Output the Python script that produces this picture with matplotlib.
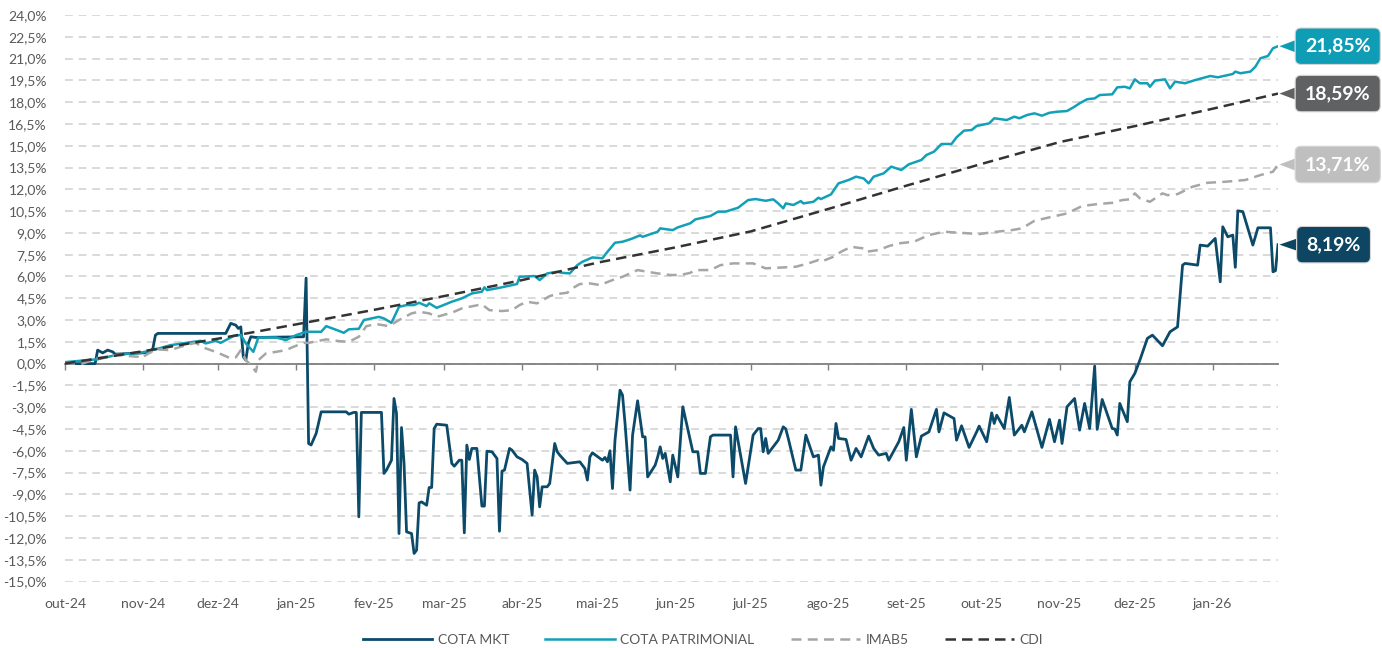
import matplotlib
matplotlib.use("Agg")
import matplotlib.pyplot as plt
import pandas as pd
import numpy as np
from matplotlib.ticker import FuncFormatter

plt.rcParams['font.family'] = ['Lato', 'DejaVu Sans']

# ---------------- data ----------------
series_names = ["COTA MKT", "COTA PATRIMONIAL", "IMAB5", "CDI"]

mkt_dates = [
    "2024-10-01", "2024-10-13", "2024-10-14", "2024-10-16", "2024-10-18", "2024-10-20", "2024-10-21",
    "2024-11-01", "2024-11-04", "2024-11-05", "2024-11-06", "2024-11-07", "2024-12-04", "2024-12-06",
    "2024-12-08", "2024-12-09", "2024-12-10", "2024-12-11", "2024-12-12", "2024-12-13", "2024-12-14",
    "2024-12-16", "2025-01-04", "2025-01-05", "2025-01-06", "2025-01-07", "2025-01-09", "2025-01-11",
    "2025-01-21", "2025-01-22", "2025-01-24", "2025-01-25", "2025-01-26", "2025-01-27", "2025-02-04",
    "2025-02-05", "2025-02-06", "2025-02-08", "2025-02-09", "2025-02-10", "2025-02-11", "2025-02-12",
    "2025-02-13", "2025-02-14", "2025-02-16", "2025-02-17", "2025-02-18", "2025-02-19", "2025-02-20",
    "2025-02-22", "2025-02-23", "2025-02-24", "2025-02-25", "2025-02-26", "2025-03-02", "2025-03-04",
    "2025-03-05", "2025-03-07", "2025-03-08", "2025-03-09", "2025-03-10", "2025-03-11", "2025-03-12",
    "2025-03-14", "2025-03-16", "2025-03-17", "2025-03-18", "2025-03-20", "2025-03-22", "2025-03-23",
    "2025-03-24", "2025-03-25", "2025-03-27", "2025-03-28", "2025-03-30", "2025-04-01", "2025-04-03",
    "2025-04-05", "2025-04-06", "2025-04-07", "2025-04-08", "2025-04-09", "2025-04-11", "2025-04-12",
    "2025-04-14", "2025-04-15", "2025-04-16", "2025-04-19", "2025-04-24", "2025-04-26", "2025-04-27",
    "2025-04-28", "2025-04-29", "2025-05-03", "2025-05-04", "2025-05-05", "2025-05-06", "2025-05-07",
    "2025-05-08", "2025-05-10", "2025-05-11", "2025-05-12", "2025-05-14", "2025-05-15", "2025-05-17",
    "2025-05-19", "2025-05-20", "2025-05-21", "2025-05-24", "2025-05-25", "2025-05-26", "2025-05-27",
    "2025-05-28", "2025-05-30", "2025-05-31", "2025-06-02", "2025-06-04", "2025-06-08", "2025-06-10",
    "2025-06-11", "2025-06-13", "2025-06-15", "2025-06-16", "2025-06-23", "2025-06-24", "2025-06-25",
    "2025-06-29", "2025-07-02", "2025-07-04", "2025-07-05", "2025-07-06", "2025-07-07", "2025-07-08",
    "2025-07-12", "2025-07-14", "2025-07-15", "2025-07-16", "2025-07-19", "2025-07-21", "2025-07-23",
    "2025-07-26", "2025-07-28", "2025-07-29", "2025-07-30", "2025-08-02", "2025-08-03", "2025-08-04",
    "2025-08-05", "2025-08-08", "2025-08-10", "2025-08-12", "2025-08-14", "2025-08-17", "2025-08-19",
    "2025-08-21", "2025-08-24", "2025-08-25", "2025-08-29", "2025-08-31", "2025-09-01", "2025-09-03",
    "2025-09-05", "2025-09-07", "2025-09-10", "2025-09-13", "2025-09-14", "2025-09-16", "2025-09-20",
    "2025-09-21", "2025-09-23", "2025-09-26", "2025-09-29", "2025-09-30", "2025-10-03", "2025-10-05",
    "2025-10-06", "2025-10-07", "2025-10-10", "2025-10-12", "2025-10-14", "2025-10-17", "2025-10-18",
    "2025-10-21", "2025-10-25", "2025-10-28", "2025-10-30", "2025-11-01", "2025-11-02", "2025-11-04",
    "2025-11-07", "2025-11-09", "2025-11-11", "2025-11-13", "2025-11-15", "2025-11-16", "2025-11-18",
    "2025-11-22", "2025-11-23", "2025-11-24", "2025-11-25", "2025-11-28", "2025-11-29", "2025-12-01",
    "2025-12-03", "2025-12-06", "2025-12-08", "2025-12-12", "2025-12-15", "2025-12-18", "2025-12-20",
    "2025-12-21", "2025-12-26", "2025-12-27", "2025-12-30", "2026-01-02", "2026-01-04", "2026-01-05",
    "2026-01-07", "2026-01-09", "2026-01-10", "2026-01-11", "2026-01-13", "2026-01-17", "2026-01-19",
    "2026-01-24", "2026-01-25", "2026-01-26", "2026-01-27",
]
mkt_values = [
    0.00, 0.00, 0.93, 0.74, 0.93, 0.81, 0.65,
    0.74, 0.80, 1.05, 1.96, 2.08, 2.08, 2.77,
    2.65, 2.42, 2.53, 0.47, 0.24, 1.39, 1.85,
    1.80, 1.85, 5.89, -5.50, -5.60, -4.81, -3.32,
    -3.32, -3.48, -3.36, -3.36, -10.55, -3.36, -3.36,
    -7.56, -7.33, -6.65, -2.40, -3.43, -11.70, -4.40,
    -6.87, -11.58, -11.70, -13.07, -12.84, -9.59, -9.52,
    -9.75, -8.53, -8.53, -4.47, -4.17, -4.24, -6.87,
    -7.06, -6.65, -6.65, -11.65, -5.61, -6.60, -5.84,
    -5.84, -9.81, -9.81, -6.03, -6.07, -6.53, -11.54,
    -7.40, -7.33, -5.84, -5.96, -6.42, -6.60, -6.87,
    -10.43, -7.33, -7.80, -9.86, -8.48, -8.48, -8.25,
    -5.50, -6.07, -6.30, -6.87, -6.76, -7.22, -8.02,
    -6.42, -6.14, -6.65, -6.46, -6.76, -6.00, -8.60,
    -5.27, -1.83, -2.17, -4.12, -8.71, -4.92, -2.56,
    -5.04, -5.04, -7.80, -6.99, -6.42, -5.73, -6.53,
    -6.18, -8.14, -6.30, -7.80, -2.97, -6.07, -6.07,
    -7.56, -7.56, -5.04, -4.92, -4.92, -7.80, -4.35,
    -8.25, -4.92, -4.47, -4.47, -6.07, -5.15, -6.18,
    -5.27, -4.35, -4.50, -5.15, -7.33, -7.33, -4.92,
    -6.42, -6.30, -8.37, -7.11, -5.73, -5.96, -4.12,
    -5.15, -5.22, -6.65, -5.84, -6.42, -4.99, -5.84,
    -6.30, -6.18, -6.65, -5.38, -4.40, -6.65, -3.15,
    -6.42, -4.99, -4.70, -3.15, -4.70, -3.39, -3.78,
    -5.27, -4.28, -5.77, -4.70, -4.30, -5.38, -3.39,
    -4.12, -3.55, -4.47, -2.33, -4.92, -4.24, -4.70,
    -3.32, -5.77, -3.84, -5.38, -3.89, -5.50, -2.97,
    -2.40, -4.58, -2.74, -4.47, -0.17, -4.53, -2.47,
    -4.47, -4.50, -4.92, -2.74, -4.00, -1.25, -0.67,
    0.24, 1.74, 1.96, 1.23, 2.19, 2.53, 6.78,
    6.90, 6.78, 8.16, 8.09, 8.62, 5.63, 9.42,
    8.73, 8.85, 6.63, 10.52, 10.46, 8.16, 9.35,
    9.35, 6.32, 6.40, 8.19,
]

pat_dates = [
    "2024-10-01", "2024-10-14", "2024-10-22", "2024-10-31", "2024-11-06", "2024-11-12", "2024-11-24",
    "2024-11-26", "2024-11-30", "2024-12-02", "2024-12-07", "2024-12-10", "2024-12-12", "2024-12-15",
    "2024-12-17", "2024-12-24", "2024-12-28", "2025-01-01", "2025-01-05", "2025-01-11", "2025-01-13",
    "2025-01-18", "2025-01-20", "2025-01-22", "2025-01-26", "2025-01-28", "2025-02-03", "2025-02-05",
    "2025-02-08", "2025-02-11", "2025-02-14", "2025-02-17", "2025-02-19", "2025-02-22", "2025-02-23",
    "2025-02-26", "2025-03-04", "2025-03-08", "2025-03-12", "2025-03-16", "2025-03-17", "2025-03-18",
    "2025-03-23", "2025-03-30", "2025-03-31", "2025-04-06", "2025-04-08", "2025-04-11", "2025-04-15",
    "2025-04-17", "2025-04-20", "2025-04-23", "2025-04-25", "2025-04-29", "2025-05-03", "2025-05-05",
    "2025-05-08", "2025-05-11", "2025-05-13", "2025-05-15", "2025-05-18", "2025-05-19", "2025-05-25",
    "2025-05-26", "2025-05-31", "2025-06-02", "2025-06-07", "2025-06-09", "2025-06-15", "2025-06-18",
    "2025-06-21", "2025-06-26", "2025-06-30", "2025-07-03", "2025-07-07", "2025-07-10", "2025-07-12",
    "2025-07-14", "2025-07-15", "2025-07-18", "2025-07-21", "2025-07-22", "2025-07-26", "2025-07-28",
    "2025-07-29", "2025-08-02", "2025-08-05", "2025-08-09", "2025-08-12", "2025-08-15", "2025-08-17",
    "2025-08-19", "2025-08-23", "2025-08-26", "2025-08-30", "2025-09-02", "2025-09-07", "2025-09-09",
    "2025-09-12", "2025-09-15", "2025-09-19", "2025-09-21", "2025-09-24", "2025-09-27", "2025-09-29",
    "2025-10-04", "2025-10-06", "2025-10-11", "2025-10-14", "2025-10-16", "2025-10-19", "2025-10-22",
    "2025-10-25", "2025-10-28", "2025-10-31", "2025-11-04", "2025-11-07", "2025-11-09", "2025-11-12",
    "2025-11-15", "2025-11-17", "2025-11-22", "2025-11-24", "2025-11-27", "2025-11-29", "2025-12-01",
    "2025-12-03", "2025-12-06", "2025-12-07", "2025-12-09", "2025-12-13", "2025-12-15", "2025-12-17",
    "2025-12-21", "2025-12-25", "2025-12-31", "2026-01-03", "2026-01-09", "2026-01-10", "2026-01-12",
    "2026-01-16", "2026-01-18", "2026-01-20", "2026-01-23", "2026-01-25", "2026-01-27",
]
pat_values = [
    0.10, 0.30, 0.62, 0.74, 0.98, 1.27, 1.57,
    1.39, 1.57, 1.43, 1.89, 1.98, 1.39, 0.81,
    1.80, 1.80, 1.62, 1.96, 2.19, 2.19, 2.58,
    2.26, 2.12, 2.36, 2.40, 3.00, 3.22, 3.11,
    2.81, 3.91, 4.03, 4.03, 4.19, 3.96, 4.15,
    3.84, 4.26, 4.49, 4.83, 4.95, 5.25, 5.06,
    5.22, 5.48, 5.98, 6.03, 5.75, 6.21, 6.32,
    6.25, 6.21, 6.78, 7.01, 7.31, 7.25, 7.70,
    8.32, 8.39, 8.50, 8.62, 8.83, 8.73, 9.08,
    9.31, 9.19, 9.38, 9.66, 9.93, 10.16, 10.46,
    10.46, 10.73, 11.26, 11.33, 11.21, 11.31, 11.03,
    10.69, 11.03, 10.92, 11.19, 11.03, 11.14, 11.42,
    11.33, 11.65, 12.41, 12.64, 12.87, 12.75, 12.41,
    12.87, 13.10, 13.56, 13.33, 13.72, 14.02, 14.36,
    14.59, 15.12, 15.12, 15.58, 16.04, 16.08, 16.36,
    16.54, 16.89, 16.77, 17.00, 16.89, 17.11, 17.23,
    17.07, 17.27, 17.34, 17.39, 17.69, 17.92, 18.20,
    18.26, 18.49, 18.54, 19.02, 19.06, 18.95, 19.57,
    19.30, 19.30, 19.06, 19.48, 19.57, 18.95, 19.41,
    19.30, 19.52, 19.80, 19.71, 19.94, 20.10, 19.99,
    20.10, 20.44, 21.02, 21.18, 21.71, 21.85,
]

imab_dates = [
    "2024-10-01", "2024-10-08", "2024-10-14", "2024-10-22", "2024-10-30", "2024-10-31", "2024-11-06",
    "2024-11-12", "2024-11-18", "2024-11-22", "2024-11-26", "2024-11-30", "2024-12-06", "2024-12-08",
    "2024-12-10", "2024-12-12", "2024-12-14", "2024-12-16", "2024-12-17", "2024-12-20", "2024-12-24",
    "2024-12-28", "2024-12-31", "2025-01-04", "2025-01-06", "2025-01-13", "2025-01-18", "2025-01-22",
    "2025-01-26", "2025-01-29", "2025-02-02", "2025-02-07", "2025-02-11", "2025-02-16", "2025-02-19",
    "2025-02-23", "2025-02-26", "2025-03-02", "2025-03-04", "2025-03-08", "2025-03-11", "2025-03-16",
    "2025-03-19", "2025-03-24", "2025-03-28", "2025-03-31", "2025-04-03", "2025-04-07", "2025-04-12",
    "2025-04-15", "2025-04-19", "2025-04-21", "2025-04-24", "2025-04-28", "2025-05-02", "2025-05-07",
    "2025-05-11", "2025-05-17", "2025-05-21", "2025-05-25", "2025-05-30", "2025-06-03", "2025-06-07",
    "2025-06-09", "2025-06-15", "2025-06-19", "2025-06-24", "2025-07-02", "2025-07-07", "2025-07-15",
    "2025-07-19", "2025-07-24", "2025-07-28", "2025-07-29", "2025-08-03", "2025-08-06", "2025-08-10",
    "2025-08-15", "2025-08-16", "2025-08-21", "2025-08-25", "2025-08-29", "2025-09-04", "2025-09-10",
    "2025-09-16", "2025-09-22", "2025-09-30", "2025-10-07", "2025-10-13", "2025-10-17", "2025-10-22",
    "2025-10-28", "2025-11-04", "2025-11-10", "2025-11-16", "2025-11-22", "2025-11-26", "2025-11-29",
    "2025-12-01", "2025-12-03", "2025-12-07", "2025-12-12", "2025-12-14", "2025-12-18", "2025-12-24",
    "2025-12-30", "2026-01-06", "2026-01-14", "2026-01-20", "2026-01-25", "2026-01-27",
]
imab_values = [
    0.00, 0.00, 0.38, 0.59, 0.47, 0.36, 0.98,
    0.93, 1.27, 1.43, 1.05, 0.81, 0.36, 0.43,
    0.93, 0.24, -0.10, -0.56, 0.24, 0.70, 0.81,
    0.93, 1.16, 1.43, 1.43, 1.67, 1.55, 1.50,
    1.85, 2.58, 2.72, 2.58, 3.00, 3.46, 3.57,
    3.46, 3.22, 3.41, 3.50, 3.80, 3.91, 4.08,
    3.68, 3.62, 3.68, 4.03, 4.26, 4.15, 4.65,
    4.79, 4.88, 5.18, 5.48, 5.52, 5.41, 5.75,
    5.98, 6.44, 6.32, 6.21, 6.10, 6.10, 6.25,
    6.44, 6.44, 6.78, 6.90, 6.90, 6.56, 6.63,
    6.67, 6.90, 7.13, 7.01, 7.36, 7.70, 8.04,
    7.93, 7.70, 7.82, 8.09, 8.28, 8.39, 8.85,
    9.08, 9.01, 8.92, 9.08, 9.19, 9.31, 9.83,
    10.07, 10.34, 10.85, 10.98, 11.07, 11.26, 11.31,
    11.72, 11.38, 11.14, 11.72, 11.60, 11.67, 12.18,
    12.45, 12.52, 12.64, 12.98, 13.21, 13.71,
]

cdi_dates = [
    "2024-10-01", "2024-11-01", "2024-12-01", "2025-01-01", "2025-02-01", "2025-03-01",
    "2025-04-01", "2025-05-01", "2025-06-01", "2025-07-01", "2025-08-01", "2025-09-01",
    "2025-10-01", "2025-11-01", "2025-12-01", "2026-01-01", "2026-01-27",
]
cdi_values = [
    0.00, 0.85, 1.72, 2.70, 3.70, 4.65,
    5.75, 6.95, 8.00, 9.10, 10.65, 12.25,
    13.75, 15.25, 16.35, 17.55, 18.59,
]

month_abbr = ["jan", "fev", "mar", "abr", "mai", "jun", "jul", "ago", "set", "out", "nov", "dez"]

# ---------------- styles ----------------
c_mkt = "#0C4A6A"
c_pat = "#12A0B7"
c_imab = "#A6A6A6"
c_cdi = "#333333"
box_colors = ["#0D4563", "#0E9DB4", "#BFBFBF", "#606163"]

fig = plt.figure(figsize=(13.82, 6.48), dpi=100)
ax = fig.add_axes([65 / 1382, 1 - 581.5 / 648, (1278 - 65) / 1382, 566.5 / 648])

mkt_x = pd.to_datetime(mkt_dates)
pat_x = pd.to_datetime(pat_dates)
imab_x = pd.to_datetime(imab_dates)
cdi_x = pd.to_datetime(cdi_dates)

l1, = ax.plot(mkt_x, mkt_values, color=c_mkt, lw=2.0, solid_joinstyle='round', zorder=3, label=series_names[0])
l2, = ax.plot(pat_x, pat_values, color=c_pat, lw=1.8, solid_joinstyle='round', zorder=4, label=series_names[1])
l3, = ax.plot(imab_x, imab_values, color=c_imab, lw=1.8, dashes=(4.0, 2.5), zorder=5, label=series_names[2])
l4, = ax.plot(cdi_x, cdi_values, color=c_cdi, lw=1.8, dashes=(4.2, 2.4), zorder=6, label=series_names[3])

# axes limits
ax.set_xlim(pd.Timestamp(cdi_dates[0]), pd.Timestamp(cdi_dates[-1]))
ax.set_ylim(-15, 24)

# y axis
yt = np.arange(-15, 24.01, 1.5)
ax.set_yticks(yt)
ax.yaxis.set_major_formatter(FuncFormatter(lambda v, p: f"{v:.1f}%".replace('.', ',')))
ax.tick_params(axis='y', length=0, pad=13, labelsize=10, labelcolor='#595959')
ax.yaxis.grid(True, color='#D9D9D9', lw=1.4, dashes=(4.0, 3.0))
ax.set_axisbelow(True)

for s in ['top', 'right', 'left']:
    ax.spines[s].set_visible(False)
ax.spines['bottom'].set_position(('data', 0))
ax.spines['bottom'].set_color('#7F7F7F')
ax.spines['bottom'].set_linewidth(1.3)
ax.spines['bottom'].set_zorder(2.5)

# month ticks
months = pd.date_range("2024-10-01", "2026-01-01", freq="MS")
mlabels = [f"{month_abbr[m.month - 1]}-{m.year % 100:02d}" for m in months]
ax.set_xticks(months)
ax.tick_params(axis='x', direction='out', length=4, width=1, color='#7F7F7F', labelbottom=False)

sec = ax.secondary_xaxis('bottom')
sec.set_xticks(months, labels=mlabels)
sec.tick_params(length=0, pad=12, labelsize=10, labelcolor='#595959')
sec.spines['bottom'].set_visible(False)

# end labels
ends = [
    (mkt_x[-1], mkt_values[-1], box_colors[0], 40),
    (pat_x[-1], pat_values[-1], box_colors[1], 43),
    (imab_x[-1], imab_values[-1], box_colors[2], 43),
    (cdi_x[-1], cdi_values[-1], box_colors[3], 43),
]
for xd, v, col, off in ends:
    txt = f"{v:.2f}%".replace('.', ',')
    ax.annotate(txt, xy=(xd, v), xytext=(off, 0), textcoords='offset points',
                ha='center', va='center', color='white', fontsize=14, fontweight='bold',
                bbox=dict(boxstyle='round,pad=0.5,rounding_size=0.3', fc=col, ec='#D5D5D5', lw=0.8),
                arrowprops=dict(arrowstyle='wedge,tail_width=0.6,shrink_factor=0.5', fc=col, ec='none',
                                shrinkA=0, shrinkB=1),
                annotation_clip=False, zorder=10)

# legend
fig.legend(handles=[l1, l2, l3, l4], loc='center', bbox_to_anchor=(703 / 1382, 1 - 640 / 648),
           ncol=4, frameon=False, fontsize=10, handlelength=5.0, handletextpad=0.4,
           columnspacing=2.6, labelcolor='#595959')

fig.savefig("out.png", dpi=100)
